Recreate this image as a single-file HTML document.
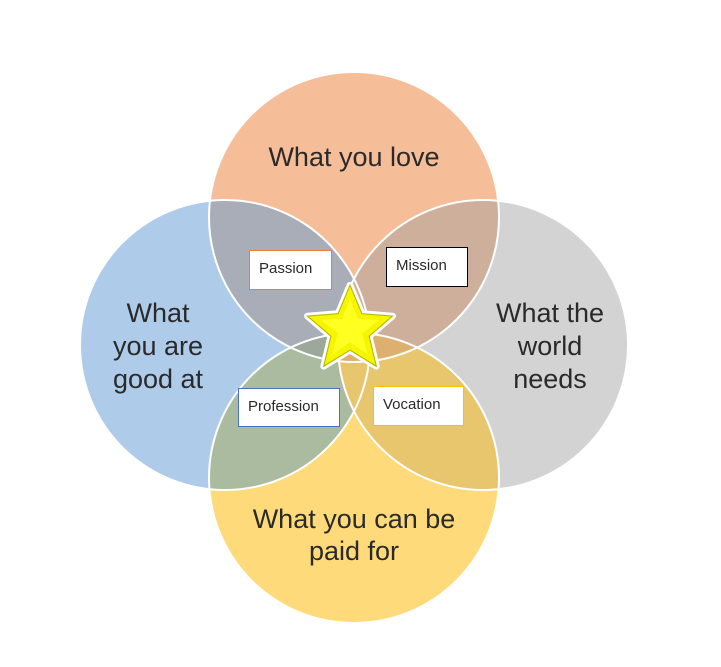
<!DOCTYPE html>
<html><head><meta charset="utf-8"><style>
html,body{margin:0;padding:0;background:#fff;}
svg{display:block;}
text{font-family:"Liberation Sans",sans-serif;fill:#2a2a2a;}
</style></head><body>
<svg width="721" height="667" viewBox="0 0 721 667" xmlns="http://www.w3.org/2000/svg">
<defs>
<clipPath id="cT"><circle cx="354" cy="217" r="145"/></clipPath>
<clipPath id="cL"><circle cx="225" cy="345" r="145"/></clipPath>
<clipPath id="cR"><circle cx="483" cy="345" r="145"/></clipPath>
<clipPath id="cB"><circle cx="354" cy="478" r="145"/></clipPath>
</defs>
<circle cx="354" cy="217" r="145" fill="#F5BD98"/>
<circle cx="225" cy="345" r="145" fill="#AECCEA"/>
<circle cx="483" cy="345" r="145" fill="#D3D3D3"/>
<circle cx="354" cy="478" r="145" fill="#FFDA7A"/>
<circle cx="225" cy="345" r="145" fill="#A9ADB8" clip-path="url(#cT)"/>
<circle cx="483" cy="345" r="145" fill="#CDAF9C" clip-path="url(#cT)"/>
<circle cx="225" cy="345" r="145" fill="#AABBA0" clip-path="url(#cB)"/>
<circle cx="483" cy="345" r="145" fill="#E8C66E" clip-path="url(#cB)"/>
<circle cx="354" cy="217" r="145" fill="#E2B075" clip-path="url(#cB)"/>
<g clip-path="url(#cB)"><circle cx="225" cy="345" r="145" fill="#9DA79A" clip-path="url(#cT)"/></g>
<g clip-path="url(#cB)"><circle cx="483" cy="345" r="145" fill="#DDB070" clip-path="url(#cT)"/></g>
<g fill="none" stroke="#fff" stroke-width="2">
<circle cx="354" cy="217" r="145"/>
<circle cx="225" cy="345" r="145"/>
<circle cx="483" cy="345" r="145"/>
<circle cx="354" cy="478" r="145"/>
</g>
<g font-size="27" text-anchor="middle">
<text x="354" y="166">What you love</text>
<text x="158" y="322">What</text>
<text x="158" y="355">you are</text>
<text x="158" y="388">good at</text>
<text x="550" y="322">What the</text>
<text x="550" y="355">world</text>
<text x="550" y="388">needs</text>
<text x="354" y="528">What you can be</text>
<text x="354" y="560">paid for</text>
</g>
<g font-size="15">
<rect x="249.5" y="250.5" width="82" height="39" fill="#fff" stroke="#ED7D31"/>
<text x="259" y="273">Passion</text>
<rect x="386.5" y="247.5" width="81" height="39" fill="#fff" stroke="#000"/>
<text x="396" y="270">Mission</text>
<rect x="238.5" y="388.5" width="101" height="38" fill="#fff" stroke="#4472C4"/>
<text x="248" y="411">Profession</text>
<rect x="373.5" y="386.5" width="90" height="39" fill="#fff" stroke="#FFC000"/>
<text x="383" y="409">Vocation</text>
</g>
<g transform="translate(350,330) scale(1.12) translate(-350,-330)">
<polygon points="350,290 360.6,315.4 388,317.6 367.1,335.5 373.5,362.4 350,348 326.5,362.4 332.9,335.5 312,317.6 339.4,315.4" fill="#FFFF00" stroke="#fff" stroke-width="6" stroke-linejoin="round"/>
<polygon points="350,290 360.6,315.4 388,317.6 367.1,335.5 373.5,362.4 350,348 326.5,362.4 332.9,335.5 312,317.6 339.4,315.4" fill="#F5F500" stroke="#B8B800" stroke-width="1"/>
<polygon points="350,302 357,320 376,321 361,333 366,352 350,341 334,352 339,333 324,321 343,320" fill="#FFFF20"/>
</g>
</svg>
</body></html>
